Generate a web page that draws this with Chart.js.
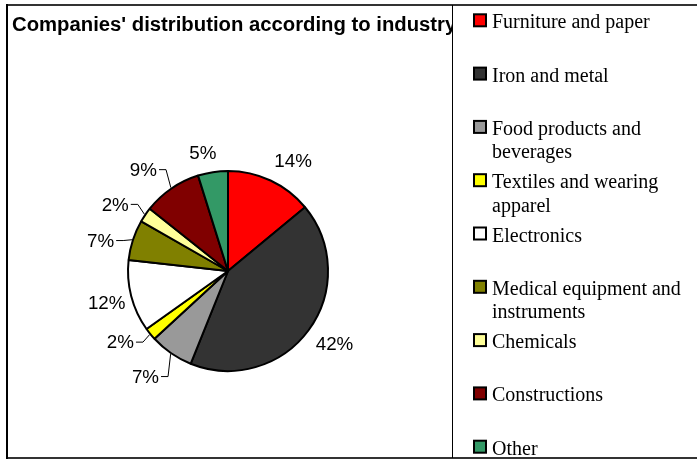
<!DOCTYPE html>
<html><head><meta charset="utf-8">
<script src="https://cdn.jsdelivr.net/npm/chart.js@4"></script>
<style>html,body{margin:0;padding:0;background:#fff;overflow:hidden}canvas{display:block}</style>
</head><body>
<canvas id="c" width="697" height="459"></canvas>
<script>
const chartTitle = "Companies' distribution according to industry";
const categories = ['Furniture and paper', 'Iron and metal', 'Food products and beverages', 'Textiles and wearing apparel', 'Electronics', 'Medical equipment and instruments', 'Chemicals', 'Constructions', 'Other'];
const shares = [13.9, 41.8, 7.0, 2.0, 11.5, 6.5, 2.4, 9.4, 4.8];
const sliceColors = ['#FF0000', '#333333', '#999999', '#FFFF00', '#FFFFFF', '#808000', '#FFFF99', '#800000', '#339966'];

// label placement styling (angle shift in degrees, distance beyond radius, leader line)
const labelStyle = {
  angleShift: [5.5, -1.8, 3.4, 5.6, -0.3, -4.6, -3.6, -5.4, -3.3],
  extra: [27.6, 29, 34, 29, 25.5, 31, 31, 32, 20.5],
  leader: [false, false, true, true, false, true, true, true, false]
};

const pieLabels = {
  id: 'pieLabels',
  afterDatasetsDraw(chart) {
    const ctx = chart.ctx;
    const meta = chart.getDatasetMeta(0);
    const data = chart.data.datasets[0].data;
    const total = data.reduce((a, b) => a + b, 0);
    ctx.save();
    ctx.font = '18.8px "Liberation Sans", Arial, sans-serif';
    ctx.fillStyle = '#000';
    ctx.strokeStyle = '#000';
    ctx.lineWidth = 1;
    ctx.textAlign = 'center';
    ctx.textBaseline = 'middle';
    meta.data.forEach((arc, i) => {
      const p = arc.getProps(['x', 'y', 'startAngle', 'endAngle', 'outerRadius'], true);
      const mid = (p.startAngle + p.endAngle) / 2;
      const a = mid + labelStyle.angleShift[i] * Math.PI / 180;
      const d = p.outerRadius + labelStyle.extra[i];
      const lx = p.x + Math.cos(a) * d;
      const ly = p.y + Math.sin(a) * d;
      const txt = Math.round(data[i] / total * 100) + '%';
      ctx.fillText(txt, lx, ly + 1);
      if (labelStyle.leader[i]) {
        const w = ctx.measureText(txt).width;
        const sx = lx + w / 2 + 2;
        const kx = sx + 7;
        const ex = p.x + Math.cos(mid) * (p.outerRadius + 1);
        const ey = p.y + Math.sin(mid) * (p.outerRadius + 1);
        ctx.beginPath();
        ctx.moveTo(sx, ly);
        ctx.lineTo(kx, ly);
        ctx.lineTo(ex, ey);
        ctx.stroke();
      }
    });
    ctx.restore();
  }
};

const frameAndLegend = {
  id: 'frameAndLegend',
  afterDraw(chart) {
    const ctx = chart.ctx;
    ctx.save();
    ctx.fillStyle = '#333';
    ctx.fillRect(6, 4, 691, 2);
    ctx.fillRect(6, 457, 691, 2);
    ctx.fillStyle = '#000';
    ctx.fillRect(6, 4, 2, 455);
    ctx.fillRect(452, 5, 1, 453);
    // title, clipped at separator
    ctx.save();
    ctx.beginPath();
    ctx.rect(8, 6, 444, 40);
    ctx.clip();
    ctx.font = 'bold 20.3px "Liberation Sans", Arial, sans-serif';
    ctx.fillStyle = '#000';
    ctx.textBaseline = 'alphabetic';
    ctx.textAlign = 'left';
    ctx.fillText(chartTitle, 12, 31);
    ctx.restore();
    // legend
    const ds = chart.data.datasets[0];
    ctx.font = '20px "Liberation Serif", "Times New Roman", serif';
    ctx.textBaseline = 'alphabetic';
    ctx.textAlign = 'left';
    const maxW = 195;
    chart.data.labels.forEach((lab, i) => {
      const base = 28.3 + 53.3 * i;
      ctx.fillStyle = '#000';
      ctx.fillRect(473, base - 15, 14, 14);
      ctx.fillStyle = ds.backgroundColor[i];
      ctx.fillRect(475, base - 13, 10, 10);
      ctx.fillStyle = '#000';
      const words = lab.split(' ');
      const lines = [];
      let cur = '';
      words.forEach(wd => {
        const t = cur ? cur + ' ' + wd : wd;
        if (ctx.measureText(t).width > maxW && cur) { lines.push(cur); cur = wd; }
        else cur = t;
      });
      lines.push(cur);
      lines.forEach((ln, k) => ctx.fillText(ln, 492, base + 23.3 * k));
    });
    ctx.restore();
  }
};

new Chart(document.getElementById('c'), {
  type: 'pie',
  data: {
    labels: categories,
    datasets: [{
      data: shares,
      backgroundColor: sliceColors,
      borderColor: '#000',
      borderWidth: 2,
      hoverOffset: 0
    }]
  },
  options: {
    responsive: false,
    animation: false,
    events: [],
    layout: { padding: { left: 127, top: 170, right: 368, bottom: 87 } },
    plugins: { legend: { display: false }, title: { display: false }, tooltip: { enabled: false } }
  },
  plugins: [pieLabels, frameAndLegend]
});
</script>
</body></html>
